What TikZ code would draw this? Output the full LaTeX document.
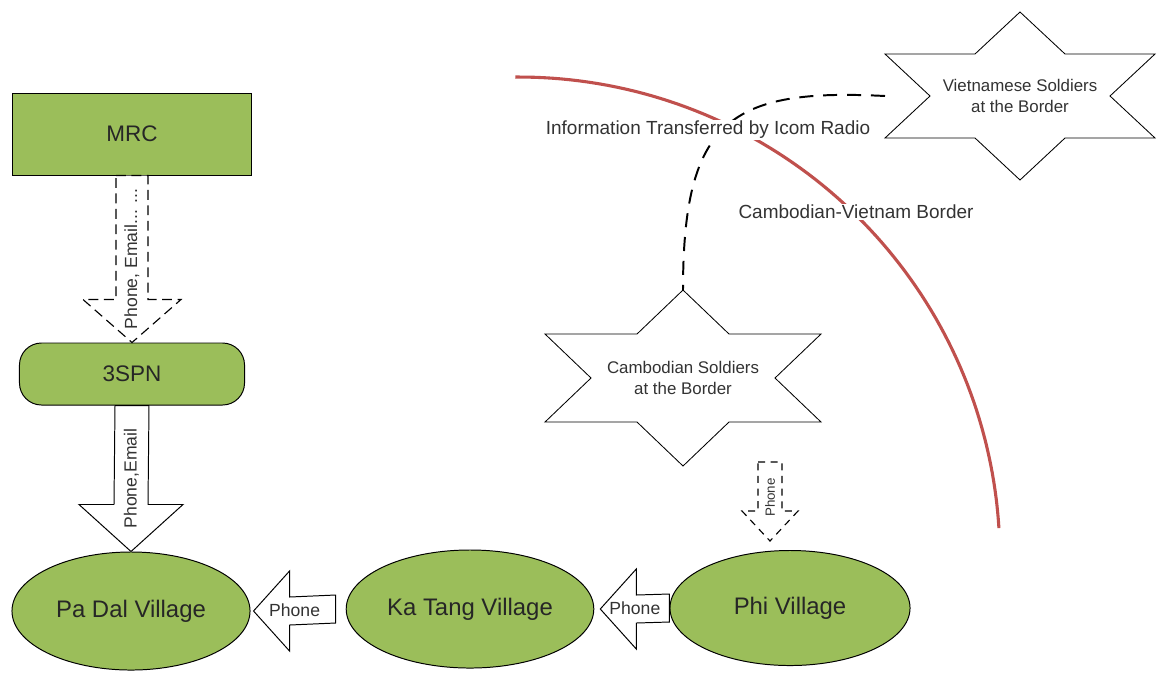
\documentclass[tikz,border=0pt]{standalone}
\usepackage{fontspec}
\setmainfont{Liberation Sans}
\usetikzlibrary{calc,shapes.geometric}
\definecolor{leafgreen}{RGB}{155,190,90}
\definecolor{borderred}{RGB}{192,80,77}
\tikzset{
  greenbox/.style={draw, fill=leafgreen, line width=0.7pt, text=black!85},
  village/.style={greenbox, ellipse, font=\fontsize{17}{20}\selectfont},
  blockarrow/.style={draw, fill=white, line width=0.7pt},
  dashblock/.style={blockarrow, line width=0.8pt, dash pattern=on 7pt off 4pt},
  arrowlabel/.style={font=\fontsize{12.5}{14}\selectfont, text=black!80, inner sep=1pt},
  starline/.style={draw, line width=0.6pt},
  startext/.style={align=center, font=\fontsize{12}{14.5}\selectfont, text=black!80},
  radioline/.style={line width=1.4pt, dash pattern=on 10pt off 7pt},
  maplabel/.style={fill=white, inner sep=1pt, font=\fontsize{13.5}{16}\selectfont, text=black!80}
}
% six pointed star round a centre: centre, half width, half height
\newcommand{\hexstar}[3]{\draw[starline] (#1) ++(0,-#3) -- ++({#2/3},{#3/2}) -- ++({2*#2/3},0) -- ++({-#2/3},{#3/2}) -- ++({#2/3},{#3/2}) -- ++({-2*#2/3},0) -- ++({-#2/3},{#3/2}) -- ++({-#2/3},{-#3/2}) -- ++({-2*#2/3},0) -- ++({#2/3},{-#3/2}) -- ++({-#2/3},{-#3/2}) -- ++({2*#2/3},0) -- cycle;}
\begin{document}
\begin{tikzpicture}[x=0.025cm, y=-0.025cm]
  \useasboundingbox[fill=white] (0,0) rectangle (1161,673);

  % border between the two countries
  \draw[borderred, line width=2.2pt] plot[domain=-90.4:-3.6, samples=80] ({518.6+481.3*cos(\x)},{558.3+481.3*sin(\x)});

  % offices
  \node[greenbox, minimum width=5.975cm, minimum height=2.05cm, font=\fontsize{16}{19}\selectfont] (mrc) at (132,134) {MRC};
  \node[greenbox, rounded corners=0.55cm, minimum width=5.625cm, minimum height=1.55cm, font=\fontsize{16}{19}\selectfont] (spn) at (132,374) {3SPN};

  % villages
  \node[village, minimum width=5.95cm, minimum height=2.95cm] (padal) at (131,611) {Pa Dal Village};
  \node[village, minimum width=5.875cm, minimum height=2.95cm] (katang) at (470,609) {Ka Tang Village};
  \node[village, minimum width=6.0cm, minimum height=2.875cm] (phi) at (790,608) {Phi Village};

  % soldiers
  \coordinate (camb) at (683,378);
  \coordinate (viet) at (1020,96);
  \hexstar{camb}{138}{88}
  \hexstar{viet}{135}{84}
  \node[startext] (cambtext) at (camb) {Cambodian Soldiers\\at the Border};
  \node[startext] (viettext) at (viet) {Vietnamese Soldiers\\at the Border};
  \coordinate (vietW) at ($(viet)+(-135,0)$);
  \coordinate (cambN) at ($(camb)+(0,-88)$);

  % radio link
  \draw[radioline] (vietW) .. controls (730,88) and (683,120) .. (cambN);
  \node[maplabel] (radio) at (708,130) {Information Transferred by Icom Radio};
  \node[maplabel] (border) at (856,212) {Cambodian-Vietnam Border};

  % MRC to 3SPN
  \draw[dashblock] ($(mrc.south)+(-16,0)$) -- ($(mrc.south)+(16,0)$) -- ($(spn.north)+(16,-43)$) -- ($(spn.north)+(49,-43)$) -- (spn.north) -- ($(spn.north)+(-49,-43)$) -- ($(spn.north)+(-16,-43)$) -- cycle;
  \node[arrowlabel, rotate=90] (mrcinfo) at ($(mrc.south)!0.5!(spn.north)$) {Phone, Email... ...};

  % 3SPN to Pa Dal
  \draw[blockarrow] ($(spn.south)+(-17,0)$) -- ($(spn.south)+(17,0)$) -- ($(padal.north)+(17,-47)$) -- ($(padal.north)+(52,-47)$) -- (padal.north) -- ($(padal.north)+(-52,-47)$) -- ($(padal.north)+(-17,-47)$) -- cycle;
  \node[arrowlabel, rotate=90] (spninfo) at ($(spn.south)!0.5!(padal.north)$) {Phone,Email};

  % Ka Tang to Pa Dal
  \coordinate (ktTail) at ($(katang.west)+(-10,0)$);
  \coordinate (pdTip) at ($(padal.east)+(3,0)$);
  \draw[blockarrow] ($(ktTail)+(0,-14)$) -- ($(ktTail)+(0,14)$) -- ($(pdTip)+(36,14)$) -- ($(pdTip)+(36,40)$) -- (pdTip) -- ($(pdTip)+(36,-40)$) -- ($(pdTip)+(36,-14)$) -- cycle;
  \node[arrowlabel] (phone1) at ($(ktTail)!0.5!(pdTip)$) {Phone};

  % Phi to Ka Tang
  \coordinate (phiTail) at (phi.west);
  \coordinate (ktTip) at ($(katang.east)+(6,0)$);
  \draw[blockarrow] ($(phiTail)+(0,-14)$) -- ($(phiTail)+(0,14)$) -- ($(ktTip)+(36,14)$) -- ($(ktTip)+(36,40)$) -- (ktTip) -- ($(ktTip)+(36,-40)$) -- ($(ktTip)+(36,-14)$) -- cycle;
  \node[arrowlabel] (phone2) at ($(phiTail)!0.5!(ktTip)$) {Phone};

  % Cambodian soldiers to Phi
  \coordinate (phTop) at (770,462);
  \coordinate (phTip) at (770,541);
  \draw[dashblock, dash pattern=on 5pt off 4pt] ($(phTop)+(-12,0)$) -- ($(phTop)+(12,0)$) -- ($(phTip)+(12,-30)$) -- ($(phTip)+(28,-30)$) -- (phTip) -- ($(phTip)+(-28,-30)$) -- ($(phTip)+(-12,-30)$) -- cycle;
  \node[arrowlabel, rotate=90, font=\fontsize{9.5}{11}\selectfont] (phone3) at ($(phTop)!0.45!(phTip)$) {Phone};
\end{tikzpicture}
\end{document}
